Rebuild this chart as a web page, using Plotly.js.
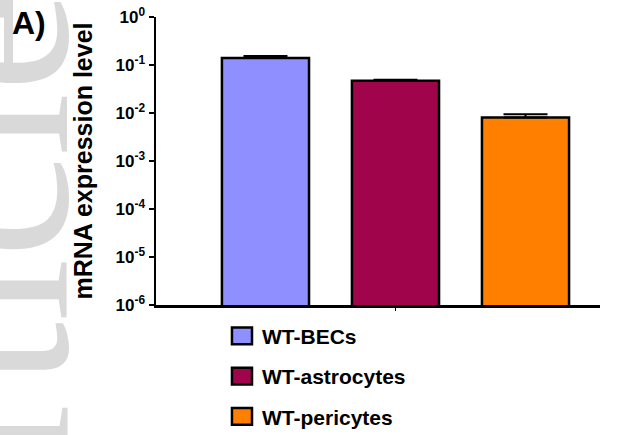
<!DOCTYPE html>
<html>
<head>
<meta charset="utf-8">
<script src="https://cdn.plot.ly/plotly-3.0.1.min.js"></script>
<style>
  html, body { margin: 0; padding: 0; background: #ffffff; }
  #chart { width: 633px; height: 435px; }
</style>
</head>
<body>
<div id="chart"></div>
<script>
// Cell types and their relative mRNA expression (log scale)
const categories = ['WT-BECs', 'WT-astrocytes', 'WT-pericytes'];
const expression = [0.14, 0.047, 0.0081];
const errorUpper = [0.014, 0.002, 0.0013];
const barColors = ['#8f8fff', '#a0044b', '#ff8000'];

const tickVals = [1, 0.1, 0.01, 0.001, 0.0001, 0.00001, 0.000001];
const tickText = ['10<sup>0</sup>', '10<sup>-1</sup>', '10<sup>-2</sup>', '10<sup>-3</sup>',
                  '10<sup>-4</sup>', '10<sup>-5</sup>', '10<sup>-6</sup>'];

const SANS = 'Liberation Sans, Arial, sans-serif';

const traces = categories.map((name, i) => ({
  type: 'bar',
  name: name,
  legendgroup: name,
  x: [i],
  y: [expression[i]],
  width: 0.67,
  marker: { color: barColors[i], line: { color: '#000000', width: 2.5 } },
  error_y: {
    type: 'data',
    symmetric: false,
    array: [errorUpper[i]],
    arrayminus: [0],
    color: '#000000',
    thickness: 2,
    width: 22
  },
  hoverinfo: 'skip'
}));

const layout = {
  width: 633,
  height: 435,
  margin: { l: 156, r: 33, t: 17, b: 130, autoexpand: false },
  paper_bgcolor: '#ffffff',
  plot_bgcolor: '#ffffff',
  font: { family: SANS, color: '#000000' },
  barmode: 'group',
  showlegend: true,
  legend: {
    x: 0.1486, xanchor: 'left',
    y: -0.037, yanchor: 'top',
    font: { family: SANS, size: 21, color: '#000000', weight: 'bold' },
    tracegroupgap: 10,
    bgcolor: 'rgba(0,0,0,0)'
  },
  xaxis: {
    range: [-0.842, 2.573],
    showgrid: false,
    zeroline: false,
    showline: true,
    linecolor: '#000000',
    linewidth: 2.5,
    tickvals: [1],
    showticklabels: false,
    ticks: 'outside',
    ticklen: 3,
    tickwidth: 1.5,
    tickcolor: '#000000',
    fixedrange: true
  },
  yaxis: {
    type: 'log',
    range: [-6, 0],
    showgrid: false,
    zeroline: false,
    showline: true,
    linecolor: '#000000',
    linewidth: 2.5,
    tickvals: tickVals,
    ticktext: tickText,
    ticks: 'outside',
    ticklen: 5,
    tickwidth: 2,
    tickcolor: '#000000',
    tickfont: { family: SANS, size: 17, color: '#000000', weight: 'bold' },
    title: {
      text: 'mRNA expression level',
      font: { family: SANS, size: 25, color: '#000000', weight: 'bold' },
      standoff: 16
    },
    fixedrange: true
  },
  annotations: [
    {
      // faint vertical watermark along the left edge
      text: 'Article',
      xref: 'paper', yref: 'paper',
      x: -0.375, y: -0.014,
      xanchor: 'center', yanchor: 'middle',
      textangle: -90,
      showarrow: false,
      font: { family: 'Liberation Serif, Times New Roman, serif', size: 230, color: '#d9d9d9' }
    },
    {
      text: 'A)',
      xref: 'paper', yref: 'paper',
      x: (10 - 156) / 444, y: (305 - 23) / 288,
      xanchor: 'left', yanchor: 'middle',
      showarrow: false,
      font: { family: SANS, size: 32, color: '#000000', weight: 'bold' }
    }
  ]
};

Plotly.newPlot('chart', traces, layout, { staticPlot: true, displayModeBar: false }).then(() => {
  // enlarge the legend swatches to rectangular boxes, keeping their position
  document.querySelectorAll('.legend .legendpoints path').forEach(p => {
    const t = p.getAttribute('transform') || '';
    p.setAttribute('transform', t + ' scale(1.67,1.39)');
    p.style.vectorEffect = 'non-scaling-stroke';
  });
});
</script>
</body>
</html>
